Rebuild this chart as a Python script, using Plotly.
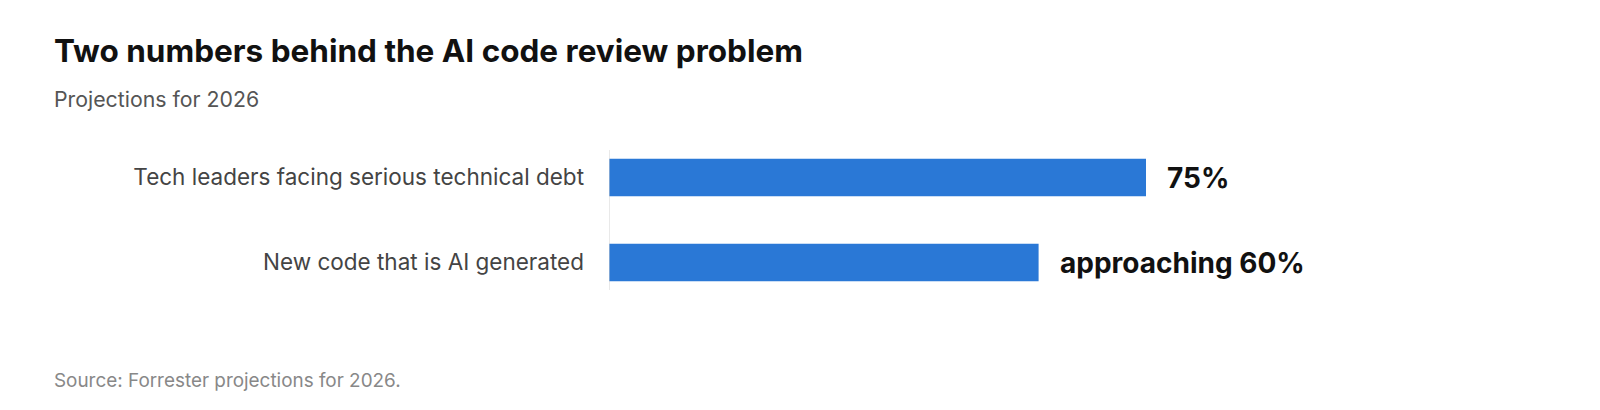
import plotly.graph_objects as go

# data
categories = ["Tech leaders facing serious technical debt", "New code that is AI generated"]
values = [75, 60]
value_labels = ["75%", "approaching 60%"]

title = "Two numbers behind the AI code review problem"
subtitle = "Projections for 2026"
source = "Source: Forrester projections for 2026."

FONT = "Inter"
BAR_COLOR = "#2a78d6"

W, H = 1600, 410
L, R, T, B = 601, 283, 127, 113
PW, PH = W - L - R, H - T - B


def px_x(x):
    return (x - L) / PW


def px_y(y):
    return (H - B - y) / PH


fig = go.Figure(go.Bar(
    x=values,
    y=categories,
    orientation="h",
    marker=dict(color=BAR_COLOR, line=dict(width=0)),
    hoverinfo="skip",
))

# value labels to the right of each bar
for cat, v, lab in zip(categories, values, value_labels):
    fig.add_annotation(x=v, y=cat, text=lab, showarrow=False, xanchor="left",
                       xshift=19, font=dict(family=FONT, size=28, color="#111111", weight="bold"))

# thin axis line at zero
fig.add_shape(type="line", xref="x", yref="paper", x0=0, x1=0, y0=px_y(282), y1=px_y(142),
              line=dict(color="#d4d4d4", width=1))

# title / subtitle / source
fig.add_annotation(xref="paper", yref="paper", x=px_x(44), y=px_y(42),
                   text=title, showarrow=False, xanchor="left", yanchor="middle",
                   font=dict(family=FONT, size=31.5, color="#111111", weight="bold"))
fig.add_annotation(xref="paper", yref="paper", x=px_x(44), y=px_y(91),
                   text=subtitle, showarrow=False, xanchor="left", yanchor="middle",
                   font=dict(family=FONT, size=21.3, color="#555555"))
fig.add_annotation(xref="paper", yref="paper", x=px_x(44), y=px_y(372),
                   text=source, showarrow=False, xanchor="left", yanchor="middle",
                   font=dict(family=FONT, size=18.9, color="#888888"))

fig.update_layout(
    width=W, height=H,
    margin=dict(l=L, r=R, t=T, b=B),
    paper_bgcolor="white", plot_bgcolor="white",
    showlegend=False,
    bargap=0.56,
    xaxis=dict(range=[0, 100], visible=False, fixedrange=True),
    yaxis=dict(autorange="reversed", showgrid=False, zeroline=False, showline=False,
               ticks="", ticklabelstandoff=24,
               tickfont=dict(family=FONT, size=22.5, color="#444444")),
)

fig.write_html("out.html")
